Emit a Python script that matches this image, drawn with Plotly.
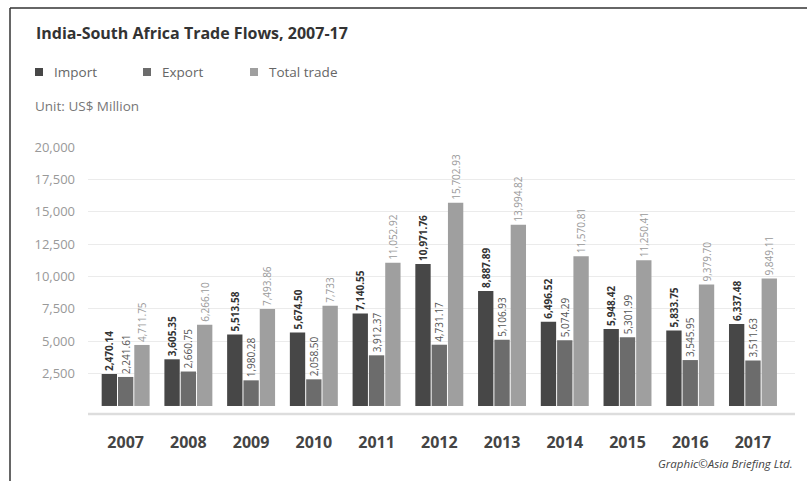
import plotly.graph_objects as go

years = ["2007", "2008", "2009", "2010", "2011", "2012", "2013", "2014", "2015", "2016", "2017"]
imports = [2470.14, 3605.35, 5513.58, 5674.50, 7140.55, 10971.76, 8887.89, 6496.52, 5948.42, 5833.75, 6337.48]
exports = [2241.61, 2660.75, 1980.28, 2058.50, 3912.37, 4731.17, 5106.93, 5074.29, 5301.99, 3545.95, 3511.63]
totals = [4711.75, 6266.10, 7493.86, 7733, 11052.92, 15702.93, 13994.82, 11570.81, 11250.41, 9379.70, 9849.11]
y_ticks = [2500, 5000, 7500, 10000, 12500, 15000, 17500, 20000]

W, H = 807, 481
ML, MR, MT, MB = 88, 12, 147, 67
PW, PH = W - ML - MR, H - MT - MB

FONT = "Open Sans"
C_IMP, C_EXP, C_TOT = "#474747", "#6c6c6c", "#9f9f9f"


def fmt(v):
    if isinstance(v, int):
        return f"{v:,}"
    return f"{v:,.2f}"


def px(x):
    return (x - ML) / PW


def py(y):
    return (H - MB - y) / PH


fig = go.Figure()
series = [
    ("Import", imports, C_IMP, dict(color="#333333", size=10, family=FONT, weight="bold")),
    ("Export", exports, C_EXP, dict(color="#555555", size=10, family=FONT)),
    ("Total trade", totals, C_TOT, dict(color="#9a9a9a", size=10, family=FONT)),
]
for name, vals, col, tf in series:
    fig.add_trace(go.Bar(
        name=name, x=years, y=vals, marker=dict(color=col, line=dict(width=0)),
        text=[fmt(v) for v in vals], textposition="outside", textangle=-90,
        constraintext="none", textfont=tf, cliponaxis=False, showlegend=False,
    ))

shapes = [
    # frame: top and left rules
    dict(type="line", xref="paper", yref="paper", x0=px(10), x1=px(W + 5), y0=py(8), y1=py(8),
         line=dict(color="#333333", width=1.5)),
    dict(type="line", xref="paper", yref="paper", x0=px(10), x1=px(10), y0=py(8), y1=py(H + 5),
         line=dict(color="#333333", width=1.5)),
]
annotations = [
    dict(text="India-South Africa Trade Flows, 2007-17", x=px(34), y=py(33), xref="paper", yref="paper",
         xanchor="left", yanchor="middle", showarrow=False,
         font=dict(family=FONT, size=16, color="#333333", weight="bold")),
    dict(text="Unit: US$ Million", x=px(33), y=py(106), xref="paper", yref="paper",
         xanchor="left", yanchor="middle", showarrow=False,
         font=dict(family=FONT, size=13.5, color="#777777")),
    dict(text="<i>Graphic©Asia Briefing Ltd.</i>", x=px(795), y=py(463), xref="paper", yref="paper",
         xanchor="right", yanchor="middle", showarrow=False,
         font=dict(family=FONT, size=11.5, color="#444444")),
]

# legend row
legend_x = [35, 143, 250]
for (name, _, col, _), lx in zip(series, legend_x):
    shapes.append(dict(type="rect", xref="paper", yref="paper", x0=px(lx), x1=px(lx + 8),
                       y0=py(68), y1=py(76), fillcolor=col, line=dict(width=0)))
    annotations.append(dict(text=name, x=px(lx + 17), y=py(72), xref="paper", yref="paper",
                            xanchor="left", yanchor="middle", showarrow=False,
                            font=dict(family=FONT, size=13.5, color="#666666")))

# baseline under the bars
shapes.append(dict(type="line", xref="paper", yref="paper", x0=0, x1=1, y0=0, y1=0,
                   line=dict(color="#dddddd", width=2.5)))

fig.update_layout(
    width=W, height=H, margin=dict(l=ML, r=MR, t=MT, b=MB, pad=0),
    paper_bgcolor="white", plot_bgcolor="white",
    barmode="group", bargap=0.22, bargroupgap=0.06,
    uniformtext=dict(minsize=10, mode="show"),
    shapes=shapes, annotations=annotations,
    xaxis=dict(range=[-0.6, 10.67], showgrid=False, zeroline=False, showline=False,
               ticks="outside", ticklen=14, tickcolor="rgba(0,0,0,0)",
               tickfont=dict(family=FONT, size=16, color="#444444", weight="bold")),
    yaxis=dict(range=[-620, 20000], tickvals=y_ticks, ticktext=[f"{v:,}" for v in y_ticks],
               showgrid=True, gridcolor="#ebebeb", gridwidth=1, zeroline=False, showline=False,
               ticks="", ticklabelstandoff=12,
               tickfont=dict(family=FONT, size=13, color="#999999")),
)

fig.write_html("out.html")
